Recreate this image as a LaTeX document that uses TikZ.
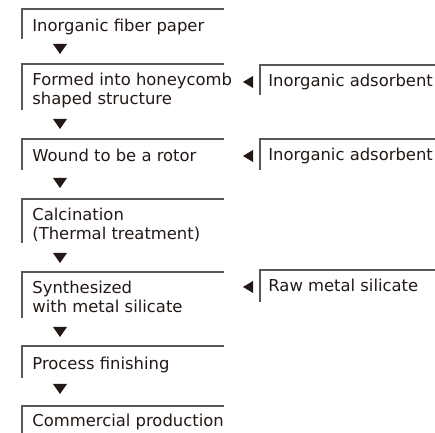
\documentclass[tikz,border=0pt]{standalone}
\usepackage{fontspec}
\setmainfont{DejaVu Sans}
\definecolor{FlowRule}{HTML}{595757}
\definecolor{FlowText}{HTML}{231815}
\definecolor{FlowTip}{HTML}{231815}

\begin{document}
\begin{tikzpicture}[x=0.5pt,y=-0.5pt,
  steptext/.style={anchor=base west,inner sep=0pt,align=left,text=FlowText,font=\fontsize{8.2}{9.5}\selectfont},
  bracket/.style={draw=FlowRule,line width=0.6pt},
  flowtip/.style={fill=FlowTip}]
  \useasboundingbox (0,0) rectangle (435,433);
  % left column: process steps (base = last line)
  \draw[bracket] (224,9) -- (22,9) -- (22,39);
  \node[steptext] (paper) at (32,32) {Inorganic fiber paper};
  \draw[bracket] (224,64) -- (22,64) -- (22,110);
  \node[steptext] (honeycomb) at (32,105) {Formed into honeycomb\\shaped structure};
  \draw[bracket] (224,139) -- (22,139) -- (22,170);
  \node[steptext] (rotor) at (32,162) {Wound to be a rotor};
  \draw[bracket] (224,199) -- (22,199) -- (22,243);
  \node[steptext] (calcination) at (32,240) {Calcination\\(Thermal treatment)};
  \draw[bracket] (224,272) -- (22,272) -- (22,318);
  \node[steptext] (synthesis) at (32,313) {Synthesized\\with metal silicate};
  \draw[bracket] (224,346) -- (22,346) -- (22,378);
  \node[steptext] (finishing) at (32,370) {Process finishing};
  \draw[bracket] (224,406) -- (22,406) -- (22,433);
  \node[steptext] (production) at (32,427) {Commercial production};
  % right column: materials fed in
  \draw[bracket] (435,65) -- (260,65) -- (260,95);
  \node[steptext] (adsorbA) at (268,87) {Inorganic adsorbent};
  \draw[bracket] (435,139) -- (260,139) -- (260,170);
  \node[steptext] (adsorbB) at (268,161) {Inorganic adsorbent};
  \draw[bracket] (435,270) -- (260,270) -- (260,302);
  \node[steptext] (silicate) at (268,292) {Raw metal silicate};
  % down tips
  \coordinate (d1) at (60,49);
  \coordinate (d2) at (60,124);
  \coordinate (d3) at (60,183);
  \coordinate (d4) at (60,258);
  \coordinate (d5) at (60,332);
  \coordinate (d6) at (60,389);
  \foreach \d in {d1,d2,d3,d4,d5,d6}
    \fill[flowtip] (\d) +(-7,-5) -- +(7,-5) -- +(0,5) -- cycle;
  % side tips
  \coordinate (s1) at (248,82);
  \coordinate (s2) at (248,156);
  \coordinate (s3) at (248,287);
  \foreach \s in {s1,s2,s3}
    \fill[flowtip] (\s) +(5,-6) -- +(5,6) -- +(-5,0) -- cycle;
\end{tikzpicture}
\end{document}
